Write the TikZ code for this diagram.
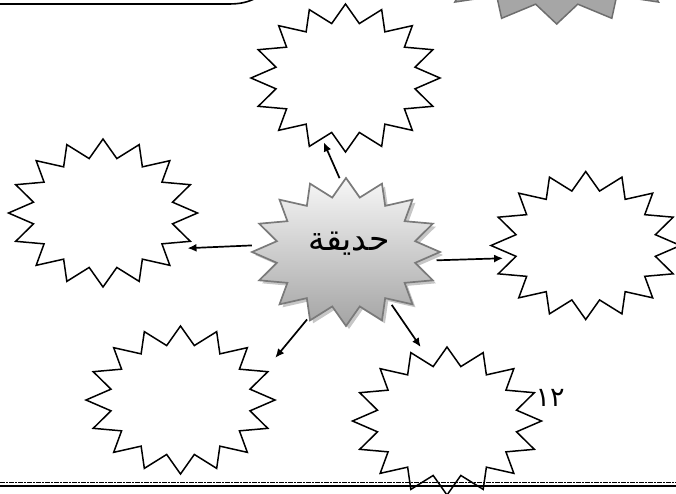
\documentclass[tikz,border=0pt]{standalone}
\usepackage{fontspec}
\newfontfamily\arabicfont[Script=Arabic]{DejaVu Sans}
\TeXXeTstate=1
\usetikzlibrary{shapes.geometric,arrows.meta}
\definecolor{starline}{HTML}{7A7A7A}
\definecolor{startop}{HTML}{F7F7F7}
\definecolor{starbot}{HTML}{A4A4A4}
\definecolor{starshadow}{HTML}{C6C6C6}
\definecolor{grayfill}{HTML}{A6A6A6}
\definecolor{grayline}{HTML}{6E6E6E}
\newcommand\burstat[4]{plot[samples at={0,...,31}, variable=\k]
  ({#1+#3*(1-0.25*mod(\k,2))*cos(90+11.25*\k)},
   {#2-#4*(1-0.25*mod(\k,2))*sin(90+11.25*\k)}) -- cycle}
\begin{document}
\begin{tikzpicture}[x=1pt,y=-1pt,
  plainstar/.style={draw=black, line width=1.5pt, fill=white, line join=miter},
  centerstar/.style={draw=starline, line width=1.7pt, top color=startop, bottom color=starbot, line join=miter},
  shadowstar/.style={fill=starshadow},
  graystar/.style={draw=grayline, line width=1.5pt, fill=grayfill, line join=miter},
  area/.style={ellipse, minimum width=189pt, minimum height=148pt, inner sep=0pt, outer sep=0pt},
  arr/.style={-{Latex[length=9pt,width=8pt]}, line width=1.7pt, black},
  frame/.style={draw=black, line width=1.6pt}
]
\useasboundingbox (0,0) rectangle (676,493);
\clip (0,0) rectangle (676,493);

% invisible areas used as anchors
\node[area] (c)  at (346,252) {};
\node[area] (t)  at (345.5,78) {};
\node[area] (l)  at (103,213) {};
\node[area] (r)  at (585.7,245.5) {};
\node[area] (bl) at (180.5,400) {};
\node[area] (br) at (447,421) {};

% top-left rounded frame (only its lower edge is in view)
\draw[frame] (-10,4) -- (228,4) .. controls (240,4) and (248,2.5) .. (258,-3);

% top-right gray star
\draw[graystar] \burstat{556.7}{-51}{144}{75};

% white stars
\draw[plainstar] \burstat{345.5}{78}{94.5}{74};
\draw[plainstar] \burstat{103}{213}{94.5}{74};
\draw[plainstar] \burstat{585.7}{245.5}{94.7}{74};
\draw[plainstar] \burstat{180.5}{400}{94.5}{74};
\draw[plainstar] \burstat{447}{421}{94.5}{74};

% central star with shadow
\path[shadowstar] \burstat{349}{255}{94}{74};
\path[centerstar] \burstat{346}{252}{94}{74};
\node[font=\arabicfont\fontsize{33}{38}\selectfont] (ct) at (349,244) {\beginR حديقة\endR};

% connectors
\draw[arr, shorten >=-9pt] (c.95.5) -- (t.256.7);
\draw[arr, shorten >=1.4pt] (c.176.9) -- (l.337.9);
\draw[arr, shorten <=-3.4pt, shorten >=-10.4pt] (c.355.9) -- (r.188.25);
\draw[arr, shorten >=14.3pt] (c.240.2) -- (bl.20.7);
\draw[arr, shorten <=-10.9pt, shorten >=3.1pt] (c.310.8) -- (br.109.15);

% page number
\node[font=\arabicfont\fontsize{27}{32}\selectfont] (pg) at (550,398) {١٢};

% bottom rules
\coordinate (ra) at (0,482.7);
\coordinate (rb) at (676,482.7);
\coordinate (sa) at (0,486.2);
\coordinate (sb) at (676,486.2);
\draw[line width=1.1pt, dash pattern=on 4.5pt off 1.5pt on 1.5pt off 1.5pt] (ra) -- (rb);
\draw[line width=1.7pt] (sa) -- (sb);
\end{tikzpicture}
\end{document}
